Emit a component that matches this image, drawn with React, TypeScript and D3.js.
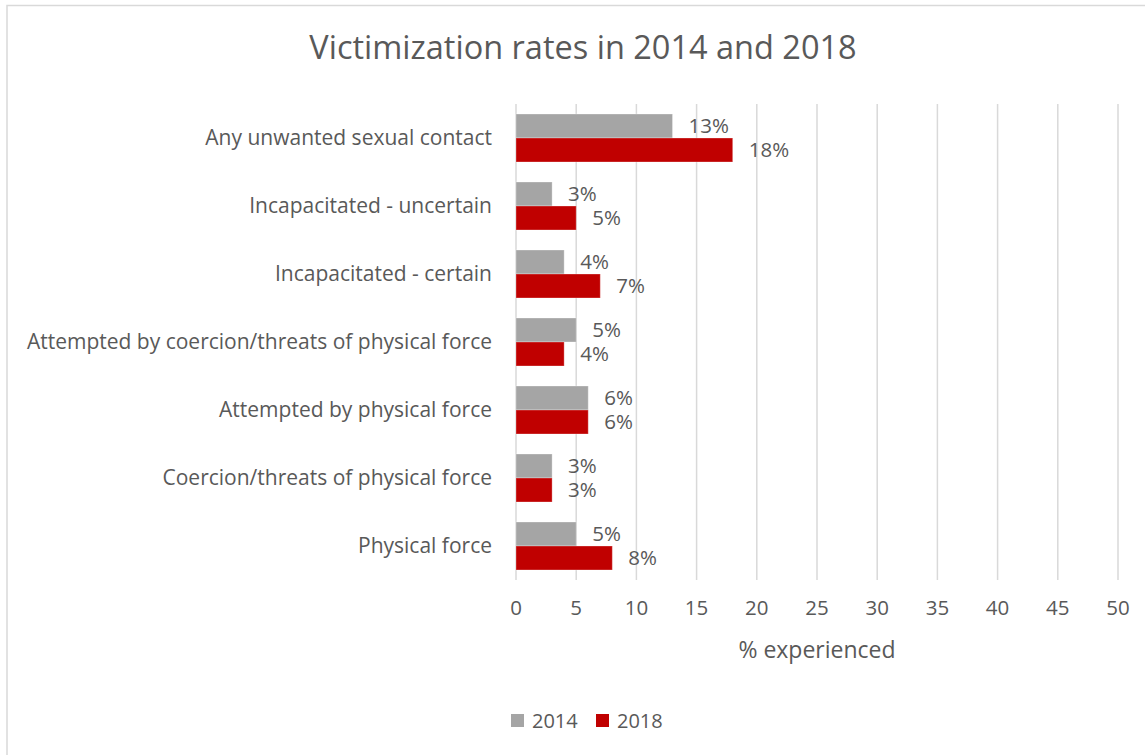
import React from "react";
import * as d3 from "d3";

const categories = [
  "Any unwanted sexual contact",
  "Incapacitated - uncertain",
  "Incapacitated - certain",
  "Attempted by coercion/threats of physical force",
  "Attempted by physical force",
  "Coercion/threats of physical force",
  "Physical force",
];
const values2014 = [13, 3, 4, 5, 6, 3, 5];
const values2018 = [18, 5, 7, 4, 6, 3, 8];
const xTicks = [0, 5, 10, 15, 20, 25, 30, 35, 40, 45, 50];
const seriesNames = ["2014", "2018"];
const seriesColors = ["#a5a5a5", "#c00000"];

const W = 1145;
const H = 755;
const FONT = "'Open Sans', Lato, sans-serif";
const TEXT = "#595959";

export default function App() {
  const x = d3.scaleLinear().domain([0, 50]).range([516, 1118]);
  const y = d3.scaleBand<string>().domain(categories).range([104, 580]);
  // two bars inside each band, leaving a gap
  const inner = d3
    .scaleBand<string>()
    .domain(seriesNames)
    .range([0, y.bandwidth()])
    .paddingOuter(0.4167);

  const series = [values2014, values2018];

  return (
    <svg
      width={W}
      height={H}
      style={{ position: "absolute", left: 0, top: 0, fontFamily: FONT }}
    >
      <rect x={0} y={0} width={W} height={H} fill="#fff" />
      <rect
        x={7}
        y={5.5}
        width={W + 10}
        height={H + 10}
        fill="none"
        stroke="#d9d9d9"
        strokeWidth={1.5}
      />

      <text x={583} y={59} textAnchor="middle" fontSize={32.5} fill={TEXT}>
        Victimization rates in 2014 and 2018
      </text>

      {/* gridlines */}
      {xTicks.map((t) => (
        <line
          key={t}
          x1={x(t)}
          x2={x(t)}
          y1={104}
          y2={580}
          stroke="#d9d9d9"
          strokeWidth={1.5}
        />
      ))}

      {/* bars */}
      {categories.map((c, i) => (
        <g key={c} transform={`translate(0,${y(c)})`}>
          {series.map((vals, s) => {
            const by = inner(seriesNames[s])!;
            const bh = inner.bandwidth();
            return (
              <g key={s}>
                <rect
                  x={x(0)}
                  y={by}
                  width={x(vals[i]) - x(0)}
                  height={bh}
                  fill={seriesColors[s]}
                  stroke="#fff"
                  strokeOpacity={0.3}
                  strokeWidth={1}
                />
                <text
                  x={x(vals[i]) + 16}
                  y={by + bh / 2}
                  dy="0.35em"
                  fontSize={20.5}
                  fill={TEXT}
                >
                  {vals[i]}%
                </text>
              </g>
            );
          })}
          <text
            x={492}
            y={y.bandwidth() / 2}
            dy="0.35em"
            textAnchor="end"
            fontSize={21}
            fill={TEXT}
          >
            {c}
          </text>
        </g>
      ))}

      {/* x axis ticks */}
      {xTicks.map((t) => (
        <text
          key={t}
          x={x(t)}
          y={608}
          dy="0.35em"
          textAnchor="middle"
          fontSize={20.5}
          fill={TEXT}
        >
          {t}
        </text>
      ))}
      <text
        x={(x(0) + x(50)) / 2}
        y={650}
        dy="0.35em"
        textAnchor="middle"
        fontSize={23}
        fill={TEXT}
      >
        % experienced
      </text>

      {/* legend */}
      {seriesNames.map((n, s) => {
        const lx = 511 + s * 85;
        return (
          <g key={n}>
            <rect x={lx} y={714} width={13} height={13} fill={seriesColors[s]} />
            <text x={lx + 21} y={720.5} dy="0.35em" fontSize={20} fill={TEXT}>
              {n}
            </text>
          </g>
        );
      })}
    </svg>
  );
}
